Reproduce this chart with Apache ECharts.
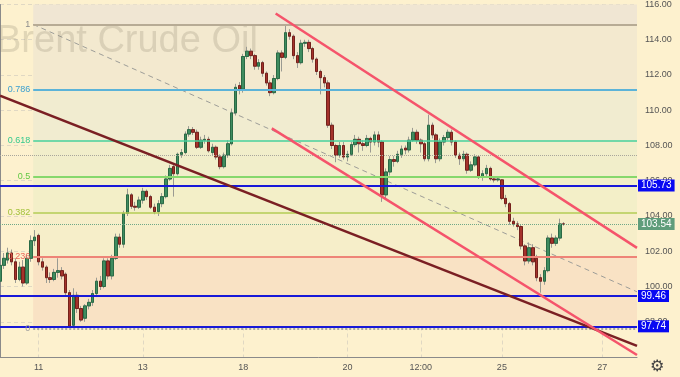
<!DOCTYPE html>
<html><head><meta charset="utf-8">
<script src="https://cdn.jsdelivr.net/npm/echarts@6/dist/echarts.min.js"></script>
<style>html,body{margin:0;padding:0;background:#fdf1ce}#c{width:680px;height:377px}</style>
</head><body><div id="c"></div>
<script>
// ---- data ----
const opens = [100.3,101.2,101.5,101.9,101.4,100.4,101.1,100.2,101.6,102.6,
102.9,101.4,101.1,100.5,100.4,100.8,100.9,100.7,99.65,97.8,
99.5,98.75,98.2,98.9,99.1,99.6,100.3,100.0,101.45,100.6,
101.6,102.8,102.4,104.15,105.2,104.55,104.5,104.9,105.4,105.1,
104.5,104.25,104.7,105.1,106.1,106.8,106.4,107.5,107.6,108.65,
108.9,108.75,107.9,108.3,108.35,107.6,107.9,107.35,106.8,107.45,
108.1,109.85,111.4,111.2,113.05,113.35,113.1,112.5,112.7,112.1,
111.55,111.0,111.8,113.25,113.0,114.4,114.2,113.1,112.7,113.8,
113.85,113.5,112.9,112.2,111.85,111.55,109.15,108.0,107.45,108.0,
107.35,107.5,108.05,108.35,108.1,108.0,108.4,108.2,108.6,108.2,
105.2,106.5,107.2,107.1,107.5,107.85,107.75,108.3,108.75,108.3,
108.1,107.25,109.15,108.6,107.25,108.2,108.45,108.75,108.2,107.45,
107.25,107.5,106.6,106.9,107.35,106.2,106.4,106.7,106.1,106.05,
106.05,105.0,104.7,103.7,103.55,103.4,102.3,101.45,102.2,101.6,
100.5,100.3,100.9,102.75,102.45,102.75,103.55];
const closes = [101.2,101.6,101.9,101.4,100.4,101.1,100.2,101.6,102.6,102.8,
101.4,101.1,100.5,100.4,100.8,100.9,100.6,99.65,97.75,99.5,
98.75,98.1,98.9,99.1,99.6,100.3,100.0,101.45,100.6,101.6,
102.8,102.4,104.15,105.2,104.55,104.5,104.9,105.4,105.1,104.5,
104.25,104.7,105.1,106.1,106.7,106.4,107.5,107.6,108.65,108.9,
108.75,107.9,108.3,108.35,107.7,107.9,107.35,106.8,107.45,108.1,
109.85,111.3,111.2,113.05,113.35,113.1,112.5,112.7,112.1,111.55,
111.0,111.8,113.25,113.0,114.4,114.2,113.1,112.7,113.8,113.85,
113.5,112.9,112.2,111.85,111.55,109.15,108.0,107.45,108.0,107.35,
107.5,108.05,108.35,108.1,108.0,108.4,108.2,108.6,108.2,105.2,
106.5,107.2,107.1,107.5,107.8,107.75,108.3,108.75,108.3,108.1,
107.25,109.15,108.6,107.25,108.2,108.45,108.75,108.2,107.45,107.25,
107.5,106.6,106.9,107.35,106.2,106.4,106.7,106.1,106.05,106.1,
105.0,104.7,103.7,103.55,103.4,102.3,101.45,102.2,101.4,100.5,
100.3,100.9,102.75,102.45,102.75,103.55,103.54];
const lows = [100.1,101.0,101.3,101.2,100.2,100.3,100.0,100.1,101.4,102.3,
101.2,100.9,100.2,100.2,100.3,100.5,100.4,99.5,97.65,97.7,
98.5,98.0,98.0,98.7,98.9,99.4,99.8,99.9,100.4,100.4,
101.5,102.2,102.2,104.0,104.4,104.3,104.4,104.7,104.9,104.4,
104.1,104.0,104.5,105.0,106.0,105.1,106.3,107.3,107.5,108.5,
108.6,107.8,107.8,108.1,107.6,107.4,107.2,106.65,106.7,107.3,
108.0,109.7,110.9,111.0,112.9,112.9,112.3,112.3,111.9,111.4,
110.8,110.9,111.7,112.2,112.9,114.0,112.9,112.4,112.6,113.6,
113.3,112.7,112.0,110.9,111.3,109.0,107.8,107.05,107.3,107.2,
107.1,107.4,107.9,107.6,107.7,107.9,107.6,108.0,107.9,104.8,
105.0,106.3,106.8,107.0,107.3,107.5,107.6,108.2,108.1,107.6,
107.1,107.1,108.4,107.0,107.1,108.0,108.3,108.0,107.3,106.9,
107.1,106.4,106.5,106.8,106.1,106.0,106.2,106.0,105.9,105.95,
104.9,104.5,103.5,103.4,103.2,102.1,101.2,101.3,101.2,100.3,
99.65,100.1,100.8,102.2,102.3,102.6,103.45];
const highs = [101.5,101.9,102.2,102.1,101.6,101.4,101.5,101.8,102.9,103.2,
103.0,101.6,101.2,100.8,101.0,101.6,101.1,100.8,99.8,99.9,
99.7,98.9,99.0,99.3,99.8,100.5,100.6,101.6,101.6,101.8,
103.0,103.0,104.3,105.55,105.3,104.8,105.1,105.6,105.5,105.2,
104.7,104.9,105.3,106.3,106.9,107.0,107.6,107.8,108.8,109.1,
109.05,108.9,108.5,108.6,108.5,108.1,108.0,107.5,107.6,108.3,
110.1,111.5,111.6,113.2,113.6,113.5,113.2,112.9,112.8,112.2,
111.7,112.0,113.4,113.4,114.87,114.6,114.3,113.3,114.0,114.0,
114.0,113.6,113.0,112.3,112.0,111.7,109.3,108.1,108.2,108.2,
107.7,108.2,108.6,108.5,108.3,108.6,108.5,108.8,108.8,108.3,
106.7,107.4,107.4,107.7,108.0,108.0,108.5,109.0,108.9,108.4,
108.2,109.75,109.3,108.7,108.4,108.6,108.9,108.9,108.3,107.6,
107.7,107.6,107.1,107.5,107.4,106.6,106.9,106.8,106.2,106.2,
106.1,105.2,104.8,103.9,103.7,103.5,102.4,102.5,102.4,101.8,
100.7,101.1,102.9,103.0,102.9,103.85,103.65];
const slotCount = 166;
const dateLabels = {10:'11', 37:'13', 63:'18', 90:'20', 109:'12:00', 130:'25', 156:'27'};
const yTicks = {min: 96, max: 116, step: 2};
const fibLow = 97.62, fibHigh = 114.87, fibStart = 8.6;
const fibRatios = [1, 0.786, 0.618, 0.5, 0.382, 0.236, 0];
const fibNames = ['1', '0.786', '0.618', '0.5', '0.382', '0.236', '0'];
const levelPrices = [105.73, 99.46, 97.74];
const lastPrice = 103.54;
const refDotted = 107.47;
const upperChannel = [[71.4, 115.49], [165, 102.19]];
const lowerChannel = [[70.4, 108.97], [165, 96.11]];
const longTrend = [[0, 110.83], [165, 96.63]];
const fibDiagonal = [[8.6, 114.87], [165, 99.7]];

// ---- styles ----
const fibLineColors = ['#b7ab95', '#5bb3d8', '#46d09c', '#86d86c', '#b3cd55', '#ee8477', '#a8a8a0'];
const fibTextColors = ['#8c8c8c', '#3a9fd0', '#35c98e', '#62c844', '#a2c13a', '#e8665a', '#9a9a9a'];
const fibZoneColors = ['#f0e6d3', '#f3e9cf', '#f1ecd0', '#f1eeca', '#f3efc8', '#f6eec9', '#f9e2c4'];

const cats = Array.from({length: slotCount}, (_, i) => String(i));
const fibPrices = fibRatios.map(r => fibLow + r * (fibHigh - fibLow));
const wickData = opens.map((o, i) => [o, closes[i], lows[i], highs[i]]);
const bodyData = opens.map((o, i) => [o, closes[i], Math.min(o, closes[i]), Math.max(o, closes[i])]);

const zoneBounds = [yTicks.max].concat(fibPrices);
const markAreaData = [];
for (let k = 0; k < fibZoneColors.length; k++) {
  markAreaData.push([{coord: [fibStart, zoneBounds[k]], itemStyle: {color: fibZoneColors[k]}}, {coord: [slotCount - 1, zoneBounds[k + 1]]}]);
}
const fibLineData = fibPrices.map((p, k) => [
  {coord: [fibStart, p], lineStyle: {color: fibLineColors[k], width: (k === 2 || k === 4) ? 1.5 : 2, type: k === 6 ? 'dotted' : 'solid'},
   label: {show: true, position: 'start', formatter: fibNames[k], color: fibTextColors[k], fontSize: 9, distance: 3, fontFamily: 'Liberation Sans'}},
  {coord: [slotCount - 1, p]}
]);

const tagLabel = (bg) => ({show: true, position: 'end', distance: 1, color: '#fff', fontSize: 10, fontFamily: 'Liberation Sans',
  backgroundColor: bg, padding: [1, 3, 1, 3], formatter: p => p.value.toFixed(2)});

const levelLines = levelPrices.map(v => ({yAxis: v, lineStyle: {color: '#1818d8', width: 2, type: 'solid'}, label: tagLabel('#0808f2')}));
levelLines.push({yAxis: lastPrice, lineStyle: {color: '#6fa887', width: 1, type: 'dotted'}, label: tagLabel('#5f9d7b')});
levelLines.push({yAxis: refDotted, lineStyle: {color: '#a9a69c', width: 1, type: 'dotted'}, label: {show: false}});

const showLbl = (idx) => dateLabels[idx] !== undefined;
const chart = echarts.init(document.getElementById('c'));
chart.setOption({
  backgroundColor: '#fdf1ce',
  animation: false,
  grid: {left: 0, right: 43, top: 1, bottom: 20},
  xAxis: [{
    type: 'category', data: cats, boundaryGap: false,
    axisLine: {show: true, lineStyle: {color: '#8a8a8a'}},
    axisTick: {show: false},
    axisLabel: {interval: (i) => showLbl(i), formatter: (v, i) => dateLabels[v] || '', color: '#555', fontSize: 9,
      margin: 6, fontFamily: 'Liberation Sans'},
    splitLine: {show: true, interval: (i) => showLbl(i), lineStyle: {color: 'rgba(150,150,170,0.28)', type: [4, 3]}}
  }, {
    type: 'value', min: 0, max: slotCount - 1, show: false
  }],
  yAxis: {
    type: 'value', position: 'right', min: yTicks.min, max: yTicks.max, interval: yTicks.step,
    axisLine: {show: true, lineStyle: {color: '#8a8a8a'}},
    axisTick: {show: false},
    axisLabel: {formatter: v => v.toFixed(2), color: '#555', fontSize: 9, margin: 8, fontFamily: 'Liberation Sans', showMinLabel: false},
    splitLine: {show: true, lineStyle: {color: 'rgba(150,150,170,0.28)', type: [4, 3]}}
  },
  graphic: [
    {type: 'text', left: -4, top: 23, z: 2, silent: true,
     style: {text: 'Brent Crude Oil', font: '38px "Liberation Sans"', fill: 'rgba(140,130,110,0.24)'}},
    {type: 'text', left: 650, top: 359, z: 10, silent: true,
     style: {text: '\u2699', font: '16px "DejaVu Sans"', fill: '#444'}}
  ],
  series: [
    {type: 'line', xAxisIndex: 1, data: fibDiagonal, symbol: 'none', silent: true, z: 1,
     lineStyle: {color: '#9d9d98', width: 1, type: [5, 4]},
     markArea: {silent: true, data: markAreaData},
     markLine: {silent: true, symbol: 'none', data: fibLineData}},
    {type: 'candlestick', data: wickData, barWidth: 3, silent: true, z: 3,
     itemStyle: {color: 'rgba(0,0,0,0)', color0: 'rgba(0,0,0,0)', borderColor: '#9a9a92', borderColor0: '#9a9a92', borderWidth: 1},
     markLine: {silent: true, symbol: 'none', data: levelLines}},
    {type: 'candlestick', data: bodyData, barWidth: 3, silent: true, z: 4,
     itemStyle: {color: '#3f8c5f', color0: '#a5322b', borderColor: '#2a6a45', borderColor0: '#74211b', borderWidth: 1}},
    {type: 'line', xAxisIndex: 1, data: longTrend, symbol: 'none', silent: true, z: 5, lineStyle: {color: '#7a1f23', width: 2.5}},
    {type: 'line', xAxisIndex: 1, data: upperChannel, symbol: 'none', silent: true, z: 6, lineStyle: {color: '#f5546b', width: 2.5}},
    {type: 'line', xAxisIndex: 1, data: lowerChannel, symbol: 'none', silent: true, z: 6, lineStyle: {color: '#f5546b', width: 2.5}}
  ]
});
</script></body></html>
